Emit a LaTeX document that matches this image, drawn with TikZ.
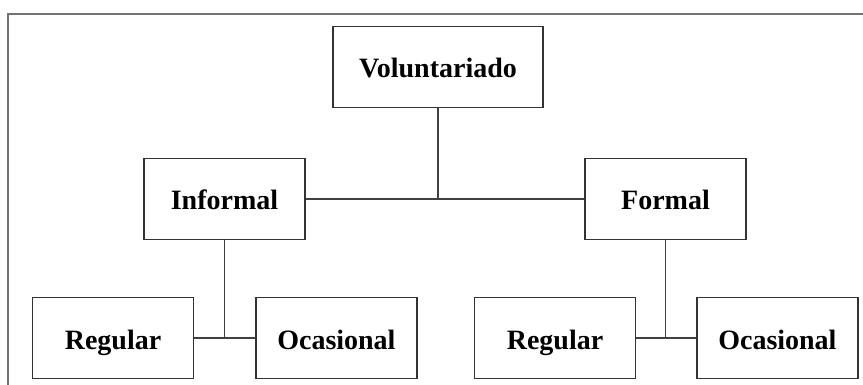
\documentclass[tikz,border=0pt]{standalone}
\usepackage{fontspec}
\setmainfont{Liberation Serif}
\usetikzlibrary{positioning}

\begin{document}
\begin{tikzpicture}[
  x=1pt, y=-1pt,
  font=\fontsize{28}{32}\selectfont\bfseries,
  block/.style={draw=black!80, line width=1.4pt, minimum width=161pt, minimum height=81pt, inner sep=4pt, text height=22pt, text depth=0pt, align=center},
  link/.style={draw=black!75, line width=1.4pt},
  frame/.style={draw=black!55, line width=2pt}
]
\useasboundingbox (0,0) rectangle (863,385);

% frame
\draw[frame] (8,385) -- (8,14) -- (863,14);

% nodes
\node[block, minimum width=210pt] (vol) at (438,67) {Voluntariado};
\node[block] (inf) at (224.5,199) {Informal};
\node[block] (form) at (665.5,199) {Formal};
\node[block] (reginf) at (113,338) {Regular};
\node[block, right=61pt of reginf] (ocainf) {Ocasional};
\node[block] (regform) at (555,338) {Regular};
\node[block, right=60pt of regform] (ocaform) {Ocasional};

% links
\draw[link] (inf) -- (form);
\draw[link] (vol) -- (vol |- inf);
\draw[link] (reginf) -- (ocainf);
\draw[link] (inf) -- (inf |- reginf);
\draw[link] (regform) -- (ocaform);
\draw[link] (form) -- (form |- regform);

\end{tikzpicture}
\end{document}
